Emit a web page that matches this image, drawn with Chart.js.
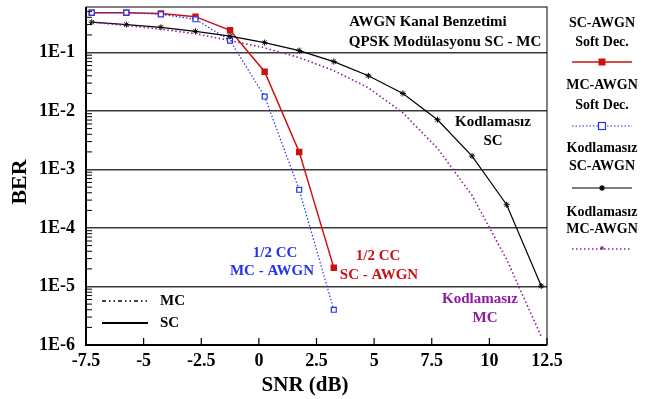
<!DOCTYPE html>
<html>
<head>
<meta charset="utf-8">
<script src="https://cdn.jsdelivr.net/npm/chart.js@4/dist/chart.umd.min.js"></script>
<style>
  html, body { margin: 0; padding: 0; background: #fff; }
  #wrap { width: 648px; height: 399px; }
</style>
</head>
<body>
<div id="wrap"><canvas id="ber"></canvas></div>
<script>
// SNR points (dB) and BER values
const snr = [-7.25, -5.75, -4.25, -2.75, -1.25, 0.25, 1.75, 3.25, 4.75, 6.25, 7.75, 9.25, 10.75, 12.25];
const scSoft = [0.48, 0.48, 0.465, 0.41, 0.24, 0.047, 0.002, 2.1e-5];
const mcSoft = [0.48, 0.48, 0.45, 0.37, 0.16, 0.0177, 4.5e-4, 4e-6];
const scUncoded = [0.33, 0.30, 0.27, 0.23, 0.19, 0.148, 0.108, 0.070, 0.040, 0.020, 0.0071, 0.0017, 2.5e-4, 1.02e-5];
const mcUncoded = [0.33, 0.29, 0.25, 0.21, 0.16, 0.12, 0.082, 0.049, 0.025, 0.0093, 0.0023, 3.6e-4, 2.9e-5, 1.4e-6];
const decades = [-6, -5, -4, -3, -2, -1];
const xTicks = [-7.5, -5, -2.5, 0, 2.5, 5, 7.5, 10, 12.5];

const FONT = "'Liberation Serif', 'Times New Roman', serif";
const RED = "#cc1111", BLUE = "#2233ee", PURPLE = "#8e1a9c";

function pts(ys) {
  return ys.map((y, i) => ({ x: snr[i], y: y }));
}

function star(ctx, x, y, r) {
  ctx.beginPath();
  for (let a = 0; a < 4; a++) {
    const t = a * Math.PI / 4;
    ctx.moveTo(x - r * Math.cos(t), y - r * Math.sin(t));
    ctx.lineTo(x + r * Math.cos(t), y + r * Math.sin(t));
  }
  ctx.stroke();
}

function text(ctx, s, x, y, size, color, align) {
  ctx.font = "bold " + size + "px " + FONT;
  ctx.fillStyle = color;
  ctx.textAlign = align || "center";
  ctx.textBaseline = "middle";
  ctx.fillText(s, x, y);
}

const decor = {
  id: "decor",
  afterDraw(chart) {
    const ctx = chart.ctx;
    const a = chart.chartArea;
    const xs = chart.scales.x, ys = chart.scales.y;
    ctx.save();

    // frame
    ctx.strokeStyle = "#000";
    ctx.lineWidth = 1;
    ctx.strokeRect(a.left, a.top, a.right - a.left, a.bottom - a.top);
    ctx.lineWidth = 2;
    ctx.beginPath();
    ctx.moveTo(a.left, a.top);
    ctx.lineTo(a.left, a.bottom);
    ctx.lineTo(a.right, a.bottom);
    ctx.stroke();

    // y minor ticks (inside)
    ctx.lineWidth = 1;
    ctx.beginPath();
    decades.forEach(d => {
      for (let k = 2; k <= 9; k++) {
        const v = k * Math.pow(10, d);
        if (v > ys.max) break;
        const py = ys.getPixelForValue(v);
        ctx.moveTo(a.left, py);
        ctx.lineTo(a.left + 6, py);
      }
    });
    ctx.stroke();

    // x ticks (inside)
    ctx.lineWidth = 1.2;
    ctx.beginPath();
    xTicks.forEach(v => {
      const px = xs.getPixelForValue(v);
      ctx.moveTo(px, a.bottom);
      ctx.lineTo(px, a.bottom - 7);
    });
    ctx.stroke();

    // axis titles
    text(ctx, "SNR (dB)", 305, 386, 21, "#000");
    ctx.save();
    ctx.translate(20, 182);
    ctx.rotate(-Math.PI / 2);
    text(ctx, "BER", 0, 0, 22, "#000");
    ctx.restore();

    // figure title
    text(ctx, "AWGN Kanal Benzetimi", 428, 22, 15, "#000");
    text(ctx, "QPSK Modülasyonu SC - MC", 445, 42, 15, "#000");

    // curve labels
    text(ctx, "Kodlamasız", 493, 122, 15, "#000");
    text(ctx, "SC", 493, 141, 15, "#000");
    text(ctx, "1/2 CC", 275, 253, 15, BLUE);
    text(ctx, "MC - AWGN", 272, 271, 15, BLUE);
    text(ctx, "1/2 CC", 378, 256, 15, RED);
    text(ctx, "SC - AWGN", 379, 275, 15, RED);
    text(ctx, "Kodlamasız", 480, 299, 15, PURPLE);
    text(ctx, "MC", 485, 318, 15, PURPLE);

    // bottom-left style legend
    ctx.strokeStyle = "#000";
    ctx.lineWidth = 1.6;
    ctx.setLineDash([4, 3, 1.5, 3, 1.5, 3]);
    ctx.beginPath(); ctx.moveTo(102, 301); ctx.lineTo(148, 301); ctx.stroke();
    ctx.setLineDash([]);
    ctx.lineWidth = 1.8;
    ctx.beginPath(); ctx.moveTo(102, 323); ctx.lineTo(148, 323); ctx.stroke();
    text(ctx, "MC", 160, 301, 15, "#000", "left");
    text(ctx, "SC", 160, 323, 15, "#000", "left");

    // right-hand legend
    const cx = 602;
    text(ctx, "SC-AWGN", cx, 23, 14, "#000");
    text(ctx, "Soft Dec.", cx, 42, 14, "#000");
    ctx.strokeStyle = RED; ctx.lineWidth = 1.5;
    ctx.beginPath(); ctx.moveTo(572, 62); ctx.lineTo(632, 62); ctx.stroke();
    ctx.fillStyle = RED; ctx.fillRect(cx - 3.5, 58.5, 7, 7);

    text(ctx, "MC-AWGN", cx, 85, 14, "#000");
    text(ctx, "Soft Dec.", cx, 105, 14, "#000");
    ctx.strokeStyle = BLUE; ctx.lineWidth = 1.2; ctx.setLineDash([1.5, 2]);
    ctx.beginPath(); ctx.moveTo(572, 126); ctx.lineTo(632, 126); ctx.stroke();
    ctx.setLineDash([]);
    ctx.fillStyle = "#fff"; ctx.fillRect(cx - 3.5, 122.5, 7, 7);
    ctx.strokeRect(cx - 3.5, 122.5, 7, 7);

    text(ctx, "Kodlamasız", cx, 148, 14, "#000");
    text(ctx, "SC-AWGN", cx, 166, 14, "#000");
    ctx.strokeStyle = "#000"; ctx.lineWidth = 1.2;
    ctx.beginPath(); ctx.moveTo(572, 188); ctx.lineTo(632, 188); ctx.stroke();
    star(ctx, cx, 188, 3);

    text(ctx, "Kodlamasız", cx, 212, 14, "#000");
    text(ctx, "MC-AWGN", cx, 229, 14, "#000");
    ctx.strokeStyle = PURPLE; ctx.lineWidth = 1.5; ctx.setLineDash([1.5, 2.5]);
    ctx.beginPath(); ctx.moveTo(572, 249); ctx.lineTo(632, 249); ctx.stroke();
    ctx.setLineDash([]);
    ctx.lineWidth = 1;
    star(ctx, cx, 248, 2);

    ctx.restore();
  }
};

new Chart(document.getElementById("ber"), {
  type: "line",
  data: {
    datasets: [
      {
        label: "Kodlamasız MC-AWGN",
        data: pts(mcUncoded),
        borderColor: PURPLE,
        borderWidth: 1.6,
        borderDash: [1.5, 2.5],
        pointRadius: 0,
      },
      {
        label: "Kodlamasız SC-AWGN",
        data: pts(scUncoded),
        borderColor: "#000",
        borderWidth: 1.2,
        pointStyle: "star",
        pointRadius: 3,
        pointBorderColor: "#000",
        pointBorderWidth: 1,
      },
      {
        label: "MC-AWGN Soft Dec.",
        data: pts(mcSoft),
        borderColor: BLUE,
        borderWidth: 1.2,
        borderDash: [1.5, 2],
        pointStyle: "rect",
        pointRadius: 3.5,
        pointBackgroundColor: "#fff",
        pointBorderColor: BLUE,
        pointBorderWidth: 1.2,
      },
      {
        label: "SC-AWGN Soft Dec.",
        data: pts(scSoft),
        borderColor: RED,
        borderWidth: 1.5,
        pointStyle: "rect",
        pointRadius: 3.5,
        pointBackgroundColor: RED,
        pointBorderColor: RED,
      },
    ],
  },
  options: {
    responsive: true,
    maintainAspectRatio: false,
    animation: false,
    events: [],
    layout: { padding: { top: 7, right: 101, left: 0, bottom: 0 } },
    plugins: { legend: { display: false }, tooltip: { enabled: false } },
    scales: {
      x: {
        type: "linear",
        min: -7.5,
        max: 12.5,
        afterBuildTicks: (s) => { s.ticks = xTicks.map(v => ({ value: v })); },
        ticks: {
          color: "#000",
          padding: 6,
          maxRotation: 0,
          font: { family: FONT, size: 18, weight: "bold" },
        },
        grid: { display: false, drawTicks: false },
        border: { display: false },
        afterFit: (s) => { s.height = 54; s.paddingLeft = 0; s.paddingRight = 0; },
      },
      y: {
        type: "logarithmic",
        min: 1e-6,
        max: 0.6,
        afterBuildTicks: (s) => { s.ticks = decades.map(d => ({ value: Math.pow(10, d) })); },
        ticks: {
          color: "#000",
          padding: 11,
          font: { family: FONT, size: 18, weight: "bold" },
          callback: (v) => "1E" + Math.round(Math.log10(v)),
        },
        grid: { color: "#3a3a3a", lineWidth: 1.5, drawTicks: false },
        border: { display: false },
        afterFit: (s) => { s.width = 86; s.paddingTop = 0; s.paddingBottom = 0; },
      },
    },
  },
  plugins: [decor],
});
</script>
</body>
</html>
